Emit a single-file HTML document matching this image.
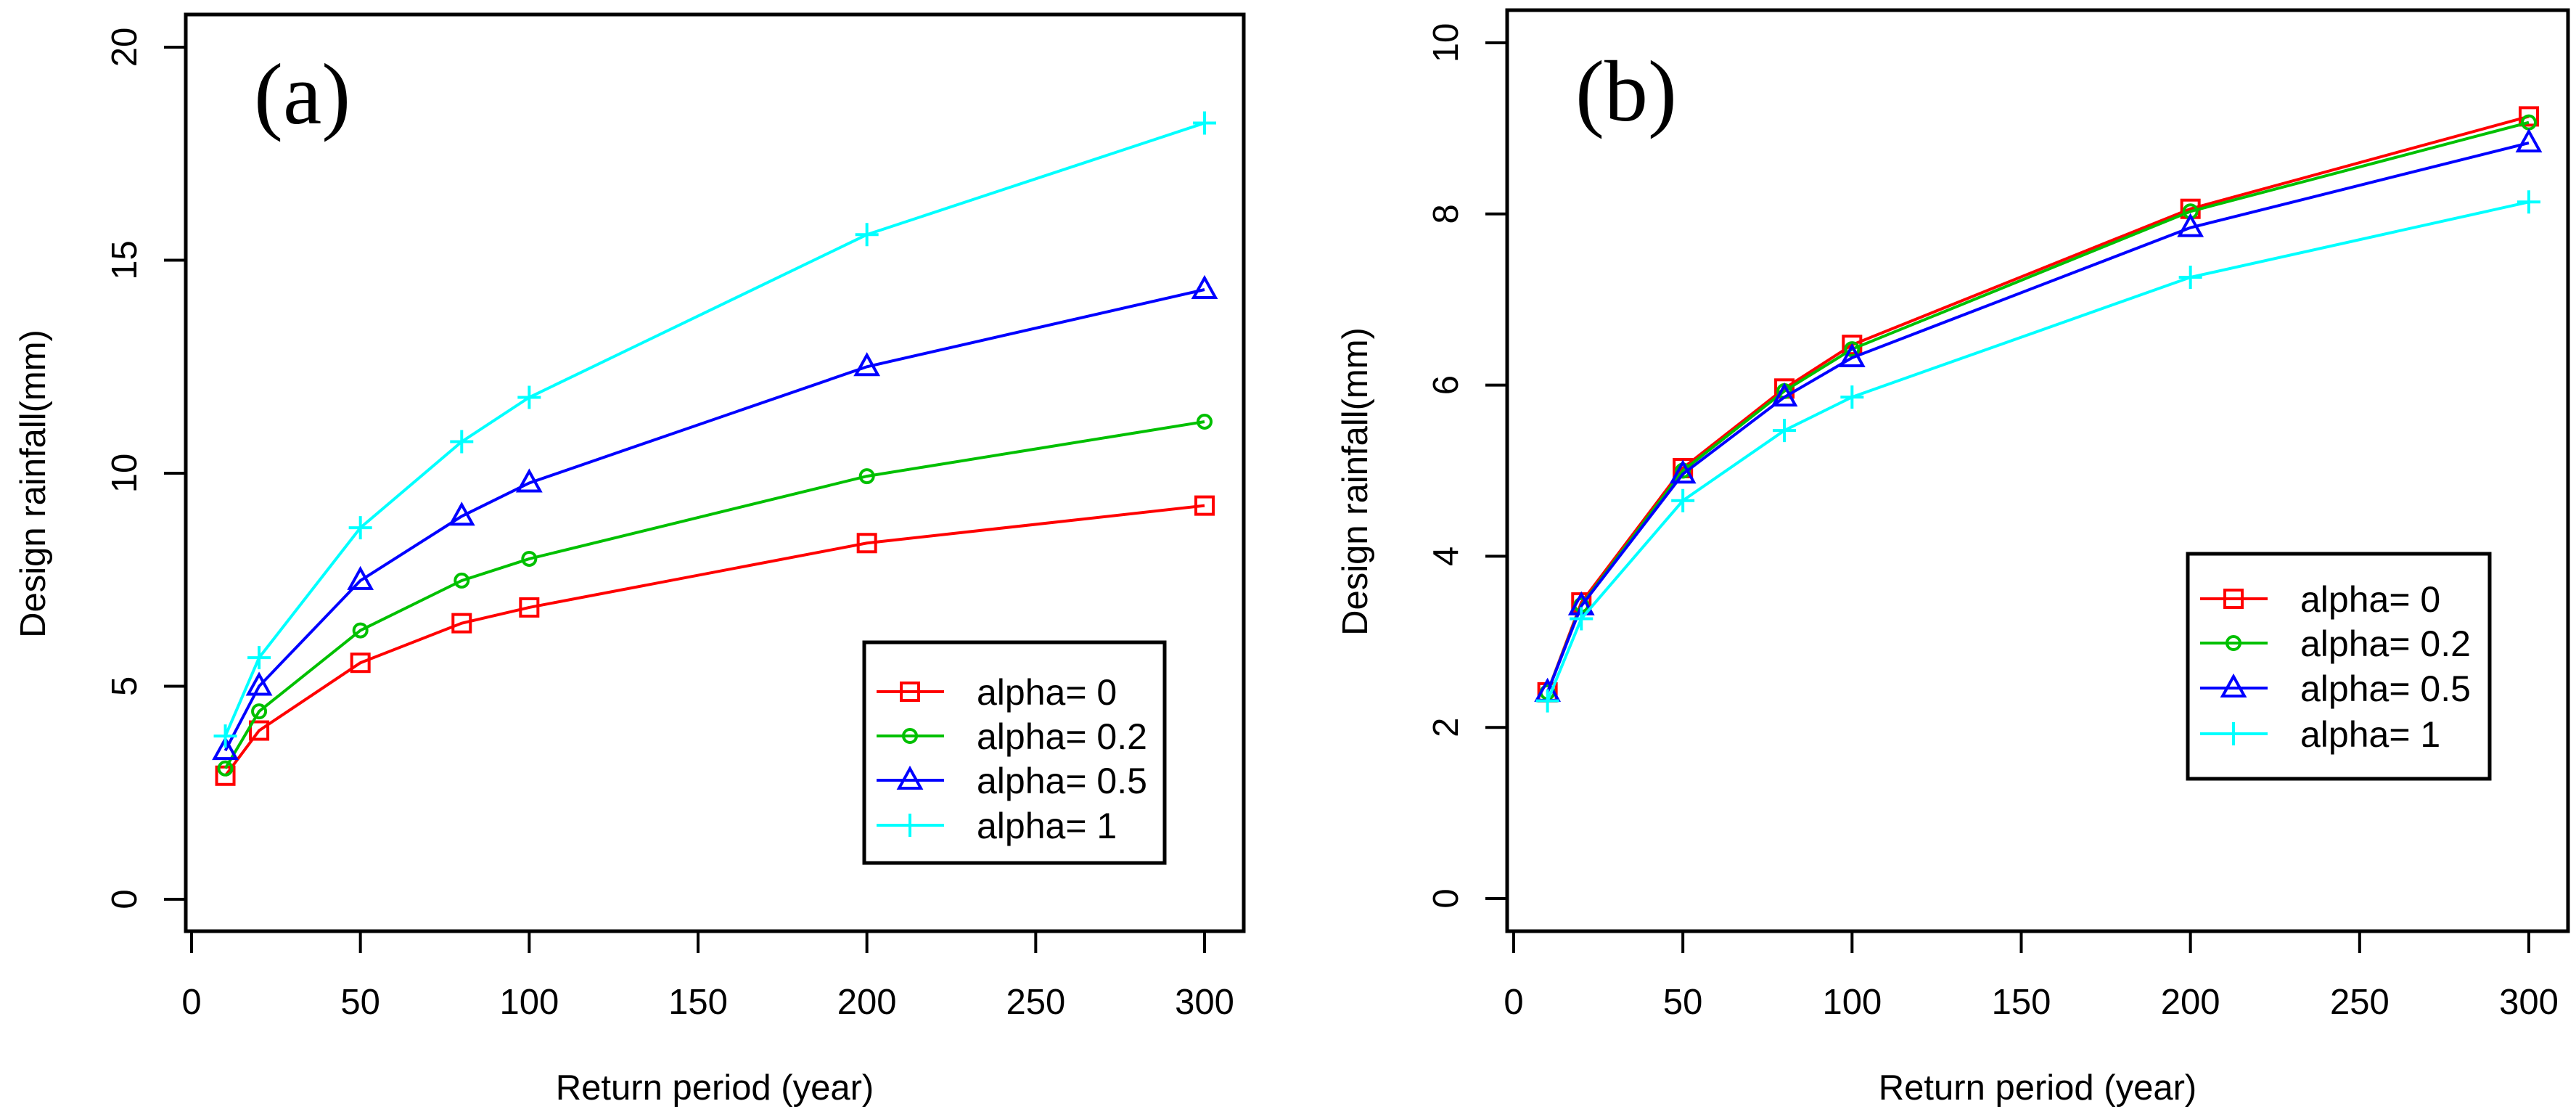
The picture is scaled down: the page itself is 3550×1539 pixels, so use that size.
<!DOCTYPE html>
<html><head><meta charset="utf-8"><style>
html,body{margin:0;padding:0;background:#fff}
svg{display:block}
</style></head><body>
<svg id="chart" width="3550" height="1539" viewBox="0 0 3550 1539" xmlns="http://www.w3.org/2000/svg" font-family="Liberation Sans, Arial, sans-serif"></svg>
<script>
const xValues = [10, 20, 50, 80, 100, 200, 300];
const seriesNames = ["alpha= 0", "alpha= 0.2", "alpha= 0.5", "alpha= 1"];
const seriesColors = ["#ff0000", "#00c000", "#0000ff", "#00ffff"];
const seriesMarkers = ["square", "circle", "triangle", "plus"];
const aAlpha0 = [2.9, 3.96, 5.55, 6.48, 6.85, 8.36, 9.24];
const aAlpha02 = [3.07, 4.41, 6.31, 7.48, 7.99, 9.93, 11.21];
const aAlpha05 = [3.49, 5.0, 7.48, 8.99, 9.77, 12.5, 14.31];
const aAlpha1 = [3.83, 5.67, 8.72, 10.74, 11.78, 15.6, 18.22];
const bAlpha0 = [2.41, 3.46, 5.03, 5.96, 6.47, 8.06, 9.14];
const bAlpha02 = [2.41, 3.43, 5.0, 5.93, 6.42, 8.03, 9.07];
const bAlpha05 = [2.41, 3.42, 4.96, 5.86, 6.32, 7.84, 8.83];
const bAlpha1 = [2.31, 3.27, 4.65, 5.47, 5.86, 7.26, 8.14];
const xTicks = [0, 50, 100, 150, 200, 250, 300];
const aYTicks = [0, 5, 10, 15, 20];
const bYTicks = [0, 2, 4, 6, 8, 10];

const NS = "http://www.w3.org/2000/svg";
const svg = document.getElementById("chart");
function mk(tag, attrs, parent) {
  const e = document.createElementNS(NS, tag);
  for (const k in attrs) e.setAttribute(k, attrs[k]);
  (parent || svg).appendChild(e);
  return e;
}

function marker(g, type, cx, cy, color) {
  let m;
  const s = 12;
  if (type === "square") m = mk("rect", {x: cx - s, y: cy - s, width: 2 * s, height: 2 * s, fill: "none", stroke: color, "stroke-width": 4}, g);
  else if (type === "circle") m = mk("circle", {cx: cx, cy: cy, r: 9, fill: "none", stroke: color, "stroke-width": 4}, g);
  else if (type === "triangle") m = mk("path", {d: `M${cx} ${cy - 16} L${cx + 15} ${cy + 11} L${cx - 15} ${cy + 11} Z`, fill: "none", stroke: color, "stroke-width": 4}, g);
  else m = mk("path", {d: `M${cx - 16} ${cy} H${cx + 16} M${cx} ${cy - 16} V${cy + 16}`, fill: "none", stroke: color, "stroke-width": 4}, g);
  
  
}

function panel(cfg) {
  const g = mk("g", {});
  
  
  const X = v => cfg.x0 + v * (cfg.x300 - cfg.x0) / 300;
  const Y = v => cfg.y0 + v * (cfg.yTop - cfg.y0) / cfg.yMax;
  const box = mk("rect", {x: cfg.L, y: cfg.T, width: cfg.R - cfg.L, height: cfg.B - cfg.T, fill: "none", stroke: "#000", "stroke-width": 5}, g);
  
  
  const xa = mk("g", {}, g);
  
  
  mk("line", {x1: X(xTicks[0]), x2: X(xTicks[xTicks.length - 1]), y1: cfg.B, y2: cfg.B, stroke: "#000", "stroke-width": 5}, xa);
  xTicks.forEach(t => {
    mk("line", {x1: X(t), x2: X(t), y1: cfg.B, y2: cfg.B + 30, stroke: "#000", "stroke-width": 4}, xa);
    const tx = mk("text", {x: X(t), y: cfg.B + 114, "font-size": 49, "text-anchor": "middle"}, xa);
    tx.textContent = t;
    
    
  });
  const xt = mk("text", {x: (cfg.L + cfg.R) / 2, y: cfg.B + 232, "font-size": 49, "text-anchor": "middle"}, g);
  xt.textContent = "Return period (year)";
  
  
  const ya = mk("g", {}, g);
  
  
  cfg.yTicks.forEach(t => {
    mk("line", {x1: cfg.L - 30, x2: cfg.L, y1: Y(t), y2: Y(t), stroke: "#000", "stroke-width": 4}, ya);
    const tx = mk("text", {x: cfg.L - 68, y: Y(t), "font-size": 49, "text-anchor": "middle", transform: `rotate(-90 ${cfg.L - 68} ${Y(t)})`}, ya);
    tx.textContent = t;
    
    
  });
  const yc = (cfg.T + cfg.B) / 2 + 15;
  const yt = mk("text", {x: cfg.ylx, y: yc, "font-size": 49, "text-anchor": "middle", transform: `rotate(-90 ${cfg.ylx} ${yc})`}, g);
  yt.textContent = "Design rainfall(mm)";
  
  
  const lb = mk("text", {x: cfg.labX, y: cfg.labY, "font-size": 120, "font-family": "Liberation Serif, serif"}, g);
  lb.textContent = cfg.label;
  
  
  cfg.series.forEach((vals, i) => {
    const sg = mk("g", {}, g);
    
    
    const d = vals.map((v, j) => (j ? "L" : "M") + X(xValues[j]) + " " + Y(v)).join(" ");
    const p = mk("path", {d: d, fill: "none", stroke: seriesColors[i], "stroke-width": 4}, sg);
    
    
    vals.forEach((v, j) => marker(sg, seriesMarkers[i], X(xValues[j]), Y(v), seriesColors[i]));
  });
  const lg = mk("g", {}, g);
  
  
  mk("rect", {x: cfg.lgL, y: cfg.lgT, width: cfg.lgW, height: cfg.lgH, fill: "#fff", stroke: "#000", "stroke-width": 5}, lg);
  seriesNames.forEach((n, i) => {
    const ey = cfg.lgRows[i];
    const eg = mk("g", {}, lg);
    
    
    mk("line", {x1: cfg.lgL + 17, x2: cfg.lgL + 110, y1: ey, y2: ey, stroke: seriesColors[i], "stroke-width": 4}, eg);
    marker(eg, seriesMarkers[i], cfg.lgL + 63, ey, seriesColors[i]);
    const t = mk("text", {x: cfg.lgL + 155, y: ey + 18, "font-size": 50}, eg);
    t.textContent = n;
  });
}

panel({name: "panel-a", L: 256, R: 1714, T: 20, B: 1283, x0: 264, x300: 1660, y0: 1239, yTop: 65, yMax: 20,
  yTicks: aYTicks, ylx: 62, label: "(a)", labX: 350, labY: 170,
  series: [aAlpha0, aAlpha02, aAlpha05, aAlpha1],
  lgL: 1191, lgT: 885, lgW: 414, lgH: 304, lgRows: [953, 1014, 1075, 1137]});
panel({name: "panel-b", L: 2077, R: 3539, T: 14, B: 1283, x0: 2086, x300: 3485, y0: 1238, yTop: 59, yMax: 10,
  yTicks: bYTicks, ylx: 1884, label: "(b)", labX: 2171, labY: 166,
  series: [bAlpha0, bAlpha02, bAlpha05, bAlpha1],
  lgL: 3015, lgT: 763, lgW: 416, lgH: 310, lgRows: [825, 886, 948, 1011]});
</script>
</body></html>
